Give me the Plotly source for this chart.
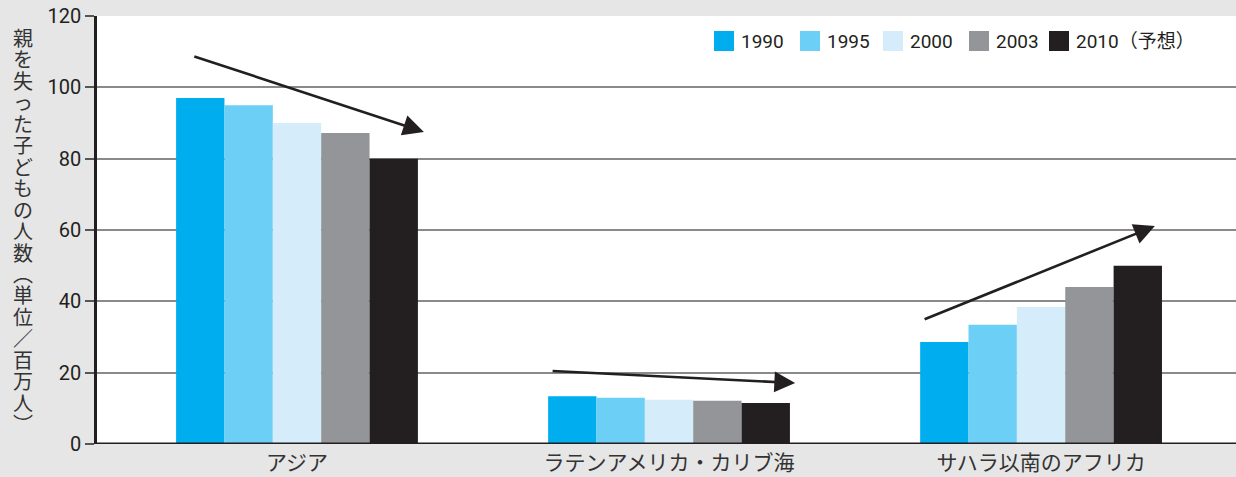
import plotly.graph_objects as go

# ---------------- data ----------------
categories = ["アジア", "ラテンアメリカ・カリブ海", "サハラ以南のアフリカ"]
years = ["1990", "1995", "2000", "2003", "2010（予想）"]
values = {
    "1990": [97.0, 13.4, 28.6],
    "1995": [95.0, 13.0, 33.4],
    "2000": [90.0, 12.4, 38.4],
    "2003": [87.2, 12.1, 44.0],
    "2010（予想）": [80.0, 11.5, 50.0],
}
y_ticks = [0, 20, 40, 60, 80, 100, 120]
y_title_chars = ["親", "を", "失", "っ", "た", "子", "ど", "も", "の", "人", "数",
                 "︵", "単", "位", "／", "百", "万", "人", "︶"]

# trend arrows: (start x, start y, end x, end y) in category/value units
trend_arrows = [
    (-0.28, 108.8, 0.341, 87.5),
    (0.683, 20.5, 1.339, 17.1),
    (1.683, 34.8, 2.306, 61.1),
]

# ---------------- style ----------------
colors = ["#00AEEF", "#6CCFF6", "#D5ECFA", "#939598", "#231F20"]
W, H = 1236, 477
ML, MR, MT, MB = 97, 0, 16, 33
FONT = "Roboto, 'Noto Sans CJK JP', sans-serif"
JFONT = "'Noto Sans CJK JP', sans-serif"
TXT = "#231F20"

fig = go.Figure()
xs = list(range(len(categories)))
for yr, c in zip(years, colors):
    fig.add_trace(go.Bar(x=xs, y=values[yr], name=yr, marker=dict(color=c, line=dict(width=0)),
                         showlegend=False))

fig.update_layout(
    width=W, height=H,
    margin=dict(l=ML, r=MR, t=MT, b=MB, pad=0),
    paper_bgcolor="#E6E6E6",
    plot_bgcolor="#FFFFFF",
    barmode="group",
    bargap=0.35,
    bargroupgap=0,
    font=dict(family=FONT, color=TXT),
)
fig.update_xaxes(
    range=[-0.5376, 2.524],
    tickvals=xs, ticktext=categories,
    tickfont=dict(family=JFONT, size=21, color="#333333"),
    showgrid=False, zeroline=False, showline=False, ticks="",
    ticklabelstandoff=4,
)
fig.update_yaxes(
    range=[0, 120],
    tickvals=y_ticks,
    tickfont=dict(family=FONT, size=20, color=TXT),
    showgrid=True, gridcolor="#8A8A8A", gridwidth=1.6,
    zeroline=False,
    showline=True, linecolor=TXT, linewidth=2.5,
    ticks="outside", ticklen=9, tickcolor="#555555", tickwidth=1.5,
)
# baseline
fig.add_shape(type="line", xref="paper", yref="y", x0=0, x1=1, y0=0, y1=0,
              line=dict(color=TXT, width=3))


def px2paper_x(px):
    return (px - ML) / (W - ML - MR)


def py2paper_y(py):
    return 1 - (py - MT) / (H - MT - MB)


# y title written vertically: one text, one glyph per line (line pitch from 16.5px font)
title_text = "<br>".join('<span style="font-size:20px">%s</span>' % ch for ch in y_title_chars)
fig.add_annotation(
    xref="paper", yref="paper", x=px2paper_x(23), y=py2paper_y(230),
    text=title_text, showarrow=False, xanchor="center", yanchor="middle",
    font=dict(family=JFONT, size=16.5, color="#333333"),
)

# legend (manual)
legend_x = [714, 800, 883, 969, 1049]
for yr, c, lx in zip(years, colors, legend_x):
    fig.add_shape(type="rect", xref="paper", yref="paper",
                  x0=px2paper_x(lx), x1=px2paper_x(lx + 20),
                  y0=py2paper_y(51), y1=py2paper_y(31),
                  fillcolor=c, line=dict(width=0))
    fig.add_annotation(xref="paper", yref="paper", x=px2paper_x(lx + 25), y=py2paper_y(41.5),
                       text=yr, showarrow=False, xanchor="left", yanchor="middle",
                       font=dict(family=FONT, size=19, color=TXT))

# trend arrows
for (x0, y0, x1, y1) in trend_arrows:
    fig.add_annotation(x=x1, y=y1, ax=x0, ay=y0, xref="x", yref="y", axref="x", ayref="y",
                       text="", showarrow=True, arrowhead=2, arrowsize=1.6, arrowwidth=2.6,
                       arrowcolor=TXT, standoff=0)

fig.write_html("out.html")
